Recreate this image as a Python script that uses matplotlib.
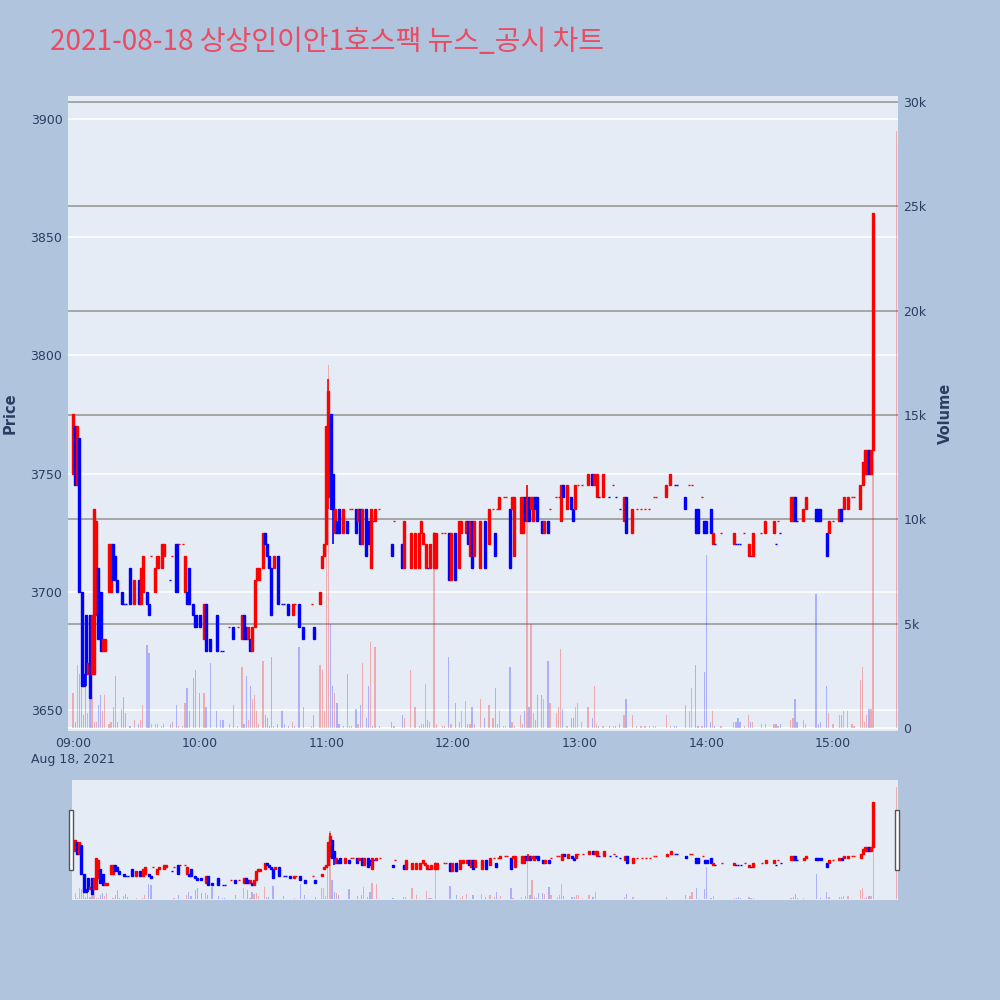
import numpy as np
import matplotlib
matplotlib.use("Agg")
import matplotlib.pyplot as plt
from matplotlib.transforms import blended_transform_factory
from matplotlib.patches import Rectangle

plt.rcParams['font.family'] = ['DejaVu Sans', 'Noto Sans CJK KR']

title = "2021-08-18 상상인이안1호스팩 뉴스_공시 차트"

# minutes after 09:00
minute = [0,1,2,3,4,5,6,7,8,9,10,11,12,13,14,15,17,18,19,20,21,23,24,25,27,29,31,32,33,35,36,37,39,40,42,43,46,47,49,50,
          52,53,54,55,57,58,60,62,63,65,68,70,71,74,76,78,80,81,82,83,84,85,86,87,88,90,91,92,93,94,95,97,99,100,102,104,105,107,109,113,
          114,117,118,119,120,121,122,123,124,125,126,128,130,131,132,134,135,136,137,139,140,141,142,143,145,151,152,156,157,160,162,164,165,166,167,168,169,171,172,175,
          176,178,179,181,183,184,186,187,188,189,190,193,195,197,199,200,201,202,204,205,207,208,209,212,213,214,215,216,217,218,219,220,222,223,225,226,229,230,231,232,
          234,236,237,238,239,241,244,246,247,248,249,251,254,256,257,259,261,262,265,267,269,271,273,275,276,281,283,285,286,290,292,293,295,296,298,299,300,302,303,304,
          307,313,314,315,316,318,320,321,322,326,328,332,333,334,335,340,341,342,343,346,347,352,353,354,357,358,360,363,364,365,367,369,370,373,374,375,376,377,378,379,
          390]
open_ = [3750,3770,3745,3765,3700,3665,3690,3665,3690,3665,3665,3690,3710,3700,3675,3675,3700,3700,3720,3715,3705,3700,3695,3695,3710,3695,3705,3695,3700,3700,3695,3715,3700,3710,3710,3715,3705,3715,3720,3720,
         3720,3700,3700,3710,3695,3690,3690,3680,3695,3680,3690,3675,3675,3685,3685,3685,3680,3690,3685,3680,3680,3675,3685,3705,3705,3710,3725,3720,3715,3710,3710,3715,3695,3695,3695,3690,3695,3695,3685,3695,
         3685,3695,3710,3715,3720,3740,3775,3750,3725,3730,3735,3725,3730,3735,3735,3735,3730,3735,3720,3735,3730,3710,3730,3730,3735,3720,3730,3720,3710,3710,3710,3710,3725,3720,3710,3710,3710,3710,3710,3725,
         3725,3725,3705,3725,3710,3725,3725,3730,3715,3730,3715,3710,3730,3720,3735,3725,3735,3735,3740,3740,3735,3735,3715,3725,3725,3740,3730,3740,3735,3730,3740,3740,3730,3725,3730,3735,3740,3740,3730,3745,
         3735,3740,3735,3735,3745,3745,3745,3750,3745,3740,3740,3740,3740,3745,3740,3735,3730,3740,3725,3735,3735,3735,3735,3740,3740,3740,3745,3745,3745,3740,3745,3745,3735,3735,3740,3730,3730,3735,3720,3720,
         3725,3720,3720,3720,3720,3725,3715,3715,3715,3725,3725,3725,3720,3730,3725,3730,3730,3740,3730,3730,3735,3735,3735,3735,3725,3725,3730,3730,3735,3735,3735,3740,3740,3735,3745,3750,3750,3760,3750,3760,
         np.nan]
high = [3775,3770,3770,3765,3700,3665,3690,3670,3690,3690,3735,3730,3710,3700,3680,3680,3720,3720,3720,3715,3705,3700,3695,3695,3710,3705,3705,3710,3715,3700,3695,3715,3710,3715,3720,3720,3705,3715,3720,3720,
        3720,3715,3700,3710,3695,3690,3690,3695,3695,3680,3690,3675,3675,3685,3685,3685,3690,3690,3685,3685,3680,3685,3705,3710,3710,3725,3725,3720,3715,3710,3715,3715,3695,3695,3695,3695,3695,3695,3685,3695,
        3685,3700,3715,3720,3770,3790,3775,3750,3735,3730,3735,3735,3730,3735,3735,3735,3735,3735,3735,3735,3730,3735,3730,3735,3735,3720,3730,3720,3730,3725,3725,3725,3730,3725,3720,3710,3720,3725,3725,3725,
        3725,3725,3725,3725,3730,3730,3730,3730,3730,3730,3730,3730,3730,3735,3735,3725,3735,3740,3740,3740,3735,3740,3740,3740,3740,3740,3745,3740,3740,3740,3740,3740,3730,3730,3730,3735,3740,3740,3745,3745,
        3745,3740,3735,3745,3745,3745,3750,3750,3750,3750,3740,3750,3740,3745,3740,3735,3740,3740,3735,3735,3735,3735,3735,3740,3740,3745,3750,3745,3745,3740,3745,3745,3735,3735,3740,3730,3730,3735,3725,3720,
        3725,3725,3720,3720,3720,3725,3720,3715,3725,3725,3730,3730,3720,3730,3725,3740,3740,3740,3730,3735,3740,3735,3735,3735,3725,3730,3730,3735,3735,3740,3740,3740,3740,3745,3755,3760,3760,3760,3760,3860,
        np.nan]
low = [3750,3745,3745,3700,3660,3660,3660,3665,3655,3665,3665,3690,3680,3675,3675,3675,3700,3700,3705,3705,3700,3695,3695,3695,3695,3695,3695,3695,3700,3695,3690,3715,3700,3710,3710,3715,3705,3715,3700,3720,
       3720,3700,3695,3695,3690,3685,3685,3680,3675,3675,3675,3675,3675,3685,3680,3685,3680,3680,3680,3680,3675,3675,3685,3705,3705,3710,3720,3715,3710,3690,3710,3695,3695,3695,3690,3690,3695,3685,3680,3695,
       3680,3695,3710,3715,3720,3735,3735,3720,3725,3725,3725,3725,3725,3735,3735,3725,3730,3720,3720,3715,3720,3710,3730,3730,3735,3715,3730,3710,3710,3710,3710,3710,3725,3720,3710,3710,3710,3710,3710,3725,
       3725,3705,3705,3705,3710,3725,3725,3720,3715,3710,3715,3710,3710,3720,3735,3715,3735,3735,3740,3740,3710,3735,3715,3725,3725,3730,3730,3730,3735,3730,3735,3730,3725,3725,3725,3735,3740,3740,3730,3740,
       3735,3735,3730,3735,3745,3745,3745,3745,3745,3740,3740,3740,3740,3745,3740,3735,3730,3725,3725,3735,3735,3735,3735,3740,3740,3740,3745,3745,3745,3735,3745,3745,3725,3725,3740,3725,3725,3725,3720,3720,
       3725,3720,3720,3720,3720,3725,3715,3715,3715,3725,3725,3725,3720,3730,3725,3730,3730,3730,3730,3730,3735,3730,3730,3730,3715,3725,3730,3730,3730,3735,3735,3740,3740,3735,3745,3750,3750,3750,3750,3760,
       np.nan]
close = [3775,3745,3770,3700,3660,3660,3665,3670,3655,3690,3735,3730,3680,3675,3680,3680,3720,3720,3705,3705,3700,3695,3695,3695,3695,3705,3695,3710,3715,3695,3690,3715,3710,3715,3720,3720,3705,3715,3700,3720,
         3720,3715,3695,3695,3690,3685,3685,3695,3675,3675,3675,3675,3675,3685,3680,3685,3690,3680,3680,3685,3675,3685,3705,3710,3710,3725,3720,3715,3710,3690,3715,3695,3695,3695,3690,3695,3695,3685,3680,3695,
         3680,3700,3715,3720,3770,3785,3735,3735,3735,3725,3725,3735,3725,3735,3735,3725,3735,3720,3735,3715,3720,3735,3730,3735,3735,3715,3730,3710,3730,3725,3725,3725,3730,3725,3720,3710,3720,3725,3725,3725,
         3725,3705,3725,3705,3730,3730,3730,3720,3730,3710,3730,3730,3710,3735,3735,3715,3735,3740,3740,3740,3710,3740,3740,3740,3740,3730,3740,3730,3740,3740,3735,3730,3725,3730,3725,3735,3740,3740,3745,3740,
         3745,3735,3730,3745,3745,3745,3750,3745,3750,3750,3740,3750,3740,3745,3740,3735,3740,3725,3735,3735,3735,3735,3735,3740,3740,3745,3750,3745,3745,3735,3745,3745,3725,3725,3740,3725,3725,3725,3725,3720,
         3725,3725,3720,3720,3720,3725,3720,3715,3725,3725,3730,3730,3720,3730,3725,3740,3740,3730,3730,3735,3740,3730,3730,3730,3715,3730,3730,3735,3730,3740,3740,3740,3740,3745,3755,3760,3760,3750,3760,3860,
         np.nan]
# volume in thousands of shares
volume = [1.7,0.3,3.0,2.6,2.0,0.6,2.0,0.7,3.2,1.5,0.3,0.3,1.1,1.6,0.8,1.6,0.2,0.3,1.0,2.5,0.3,0.9,1.5,0.7,0.1,0.4,0.2,0.4,1.1,4.0,3.6,0.2,0.2,0.2,0.1,0.2,0.2,0.3,1.1,0.1,
          0.1,1.2,1.9,0.8,2.4,2.8,1.7,1.7,1.0,3.1,0.8,0.4,0.4,0.2,1.1,0.1,2.9,0.2,2.5,0.4,2.0,1.4,1.6,0.8,0.2,3.2,0.6,0.5,0.1,3.4,0.1,0.2,0.8,0.2,0.1,0.3,0.1,3.9,1.0,0.1,
          0.6,3.0,2.8,0.8,8.9,17.4,5.0,2.0,1.7,1.2,0.2,0.1,2.6,0.1,0.1,0.9,0.2,1.1,3.1,0.5,2.0,4.1,0.1,3.9,0.1,0.3,0.1,0.6,0.5,2.8,1.0,0.1,0.2,0.2,2.1,0.4,0.3,9.4,0.2,0.1,
          0.1,3.4,0.2,1.2,0.3,0.8,1.3,0.2,0.2,1.0,0.2,1.4,0.5,1.1,0.5,1.9,0.2,0.8,0.1,0.1,2.9,0.3,0.1,0.6,0.2,0.8,11.6,1.0,5.0,0.7,0.4,1.6,1.6,1.4,3.2,1.2,0.7,1.0,3.8,0.9,
          0.1,0.5,0.5,1.0,1.2,0.3,1.0,0.5,2.0,0.2,0.1,0.1,0.1,0.1,0.1,0.2,0.6,1.4,0.6,0.1,0.1,0.1,0.1,0.1,0.1,0.6,0.1,0.1,0.1,1.1,0.8,1.9,3.0,0.1,0.1,2.7,8.3,0.3,0.8,0.1,
          0.1,0.3,0.3,0.5,0.3,0.1,0.6,0.3,0.3,0.2,0.2,0.2,0.2,0.1,0.2,0.4,0.5,1.4,0.3,0.4,0.2,6.4,0.2,0.3,2.0,0.7,0.2,0.6,0.6,0.8,0.8,0.2,0.1,2.3,2.9,0.3,0.6,0.9,0.9,17.1,
          28.6]

price_ticks = [3650, 3700, 3750, 3800, 3850, 3900]
volume_ticks = [0, 5000, 10000, 15000, 20000, 25000, 30000]
volume_tick_labels = ["0", "5k", "10k", "15k", "20k", "25k", "30k"]
time_ticks = [0, 60, 120, 180, 240, 300, 360]
time_tick_labels = ["09:00\nAug 18, 2021", "10:00", "11:00", "12:00", "13:00", "14:00", "15:00"]

UP, DOWN = '#ff0000', '#0000ff'
VOL_UP, VOL_DOWN = (1, 0, 0, 0.28), (0, 0, 1, 0.25)
TXT = '#2a3f5f'
PLOT_BG = '#e5ecf6'

m = np.array(minute, float)
o = np.array(open_, float)
h = np.array(high, float)
l = np.array(low, float)
c = np.array(close, float)
v = np.array(volume, float) * 1000

# candle direction (doji: compared with previous close)
up = []
prev_c, prev_d = None, True
for oi, ci in zip(o, c):
    if np.isnan(oi):
        d = True
    elif ci > oi:
        d = True
    elif ci < oi:
        d = False
    else:
        if prev_c is None or ci == prev_c:
            d = prev_d
        else:
            d = ci > prev_c
    up.append(d)
    if not np.isnan(ci):
        prev_c = ci
    prev_d = d
up = np.array(up)

XLIM = (-2.4, 390.8)
PLIM = (3641.1, 3909.7)
VLIM = (-144, 30290)


def draw(axp, axv):
    ok = ~np.isnan(o)
    cols = [UP if u else DOWN for u in up[ok]]
    axp.vlines(m[ok], l[ok], h[ok], colors=cols, linewidth=1.2, zorder=3)
    axp.bar(m[ok], np.abs(c[ok] - o[ok]), bottom=np.minimum(o[ok], c[ok]), width=0.95,
            color=cols, edgecolor=cols, linewidth=1.0, zorder=3)
    vcols = [VOL_UP if u else VOL_DOWN for u in up]
    axv.bar(m, v, width=0.6, color=vcols, linewidth=0, zorder=2)


fig = plt.figure(figsize=(10, 10), dpi=100, facecolor='#b0c4de')

# main chart
ax = fig.add_axes([0.068, 0.269, 0.830, 0.635])
ax.set_facecolor(PLOT_BG)
ax2 = ax.twinx()
ax2.patch.set_visible(False)
for a in (ax, ax2):
    for s in a.spines.values():
        s.set_visible(False)

ax.set_xlim(*XLIM)
ax.set_ylim(*PLIM)
ax2.set_ylim(*VLIM)
ax.set_yticks(price_ticks)
ax.grid(axis='y', color='white', linewidth=1.1, zorder=0)
ax.set_axisbelow(True)
trans = blended_transform_factory(ax.transAxes, ax2.transData)
for vt in volume_ticks:
    ax.plot([0, 1], [vt, vt], transform=trans, color='#9a9a9a' if vt > 0 else 'white',
            linewidth=1.2, zorder=1)
ax2.set_yticks(volume_ticks)
ax2.set_yticklabels(volume_tick_labels)
ax.set_xticks(time_ticks)
ax.set_xticklabels(time_tick_labels, linespacing=1.35)
ax.tick_params(axis='both', length=0, labelsize=9, labelcolor=TXT, pad=4)
ax2.tick_params(axis='y', length=0, labelsize=9, labelcolor=TXT, pad=4)

draw(ax, ax2)

fig.text(0.010, 0.587, 'Price', rotation=90, ha='center', va='center',
         fontsize=10.5, fontweight='bold', color=TXT)
fig.text(0.945, 0.587, 'Volume', rotation=90, ha='center', va='center',
         fontsize=10.5, fontweight='bold', color=TXT)
fig.text(0.05, 0.958, title, ha='left', va='center', fontsize=20.2, color='#ea4c63',
         family=['Noto Sans CJK KR', 'DejaVu Sans'])

# range slider
axs = fig.add_axes([0.072, 0.10, 0.826, 0.12])
axs.set_facecolor(PLOT_BG)
axs2 = axs.twinx()
axs2.patch.set_visible(False)
for a in (axs, axs2):
    for s in a.spines.values():
        s.set_visible(False)
    a.set_xticks([])
    a.set_yticks([])
axs.set_xlim(-1.5, 390.8)
axs.set_ylim(*PLIM)
axs2.set_ylim(*VLIM)
draw(axs, axs2)

for x0 in (0.069, 0.895):
    fig.patches.append(Rectangle((x0, 0.130), 0.004, 0.060, transform=fig.transFigure,
                                 facecolor='white', edgecolor='#555555', linewidth=1.0, zorder=10))

fig.savefig('out.png', dpi=100, facecolor=fig.get_facecolor())
